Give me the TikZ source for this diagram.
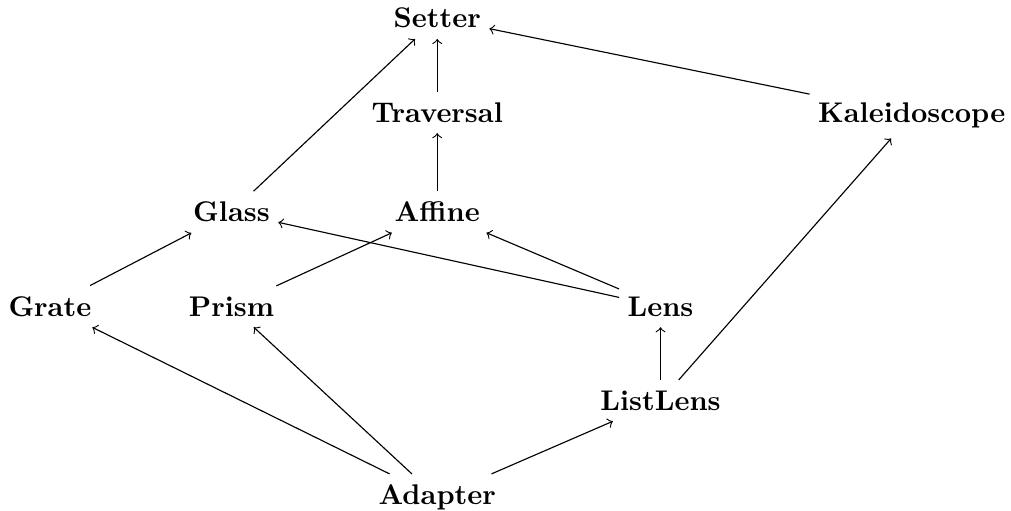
\documentclass[tikz,border=0pt]{standalone}
\usepackage{tikz}
\usetikzlibrary{matrix}
\def\Optics{
    \matrix (optics)
    [matrix of nodes,
    ampersand replacement=\&,
    column sep={28.3pt},
    row sep={18.5pt},
    nodes={outer sep=0pt, inner xsep=3pt, inner ysep=3.8pt, font=\bfseries} ]
    {
     \& \& Setter \& \& \\
     \& \& Traversal \& \& Kaleidoscope \\
     \& Glass \& Affine \& \& \\
     Grate \& Prism \& \& Lens \& \\
     \& \& \& ListLens \& \\
     \& \& Adapter \& \& \\
};
}

\begin{document}
\begin{tikzpicture}
    \Optics

    \draw[->] (optics-2-3) -- (optics-1-3);
    \draw[->] (optics-3-2) -- (optics-1-3);
    \draw[->] (optics-2-5) -- (optics-1-3);
    \draw[->] (optics-3-3) -- (optics-2-3);

    \draw[->] (optics-4-1) -- (optics-3-2);
    \draw[->] (optics-4-2) -- (optics-3-3);
    \draw[->] (optics-4-4) -- (optics-3-2);
    \draw[->] (optics-4-4) -- (optics-3-3);

    \draw[->] (optics-5-4) -- (optics-4-4);
    \draw[->] (optics-5-4) -- (optics-2-5);

    \foreach \dst in {4-1,4-2,5-4} {
    \draw[->] (optics-6-3) -- (optics-\dst);
    }

    \pgfresetboundingbox
    \useasboundingbox ([yshift=-1pt]optics-4-1.west |- optics-1-3.north) rectangle ([xshift=-1pt,yshift=-2pt]optics-2-5.east |- optics-6-3.base);
\end{tikzpicture}
\end{document}
